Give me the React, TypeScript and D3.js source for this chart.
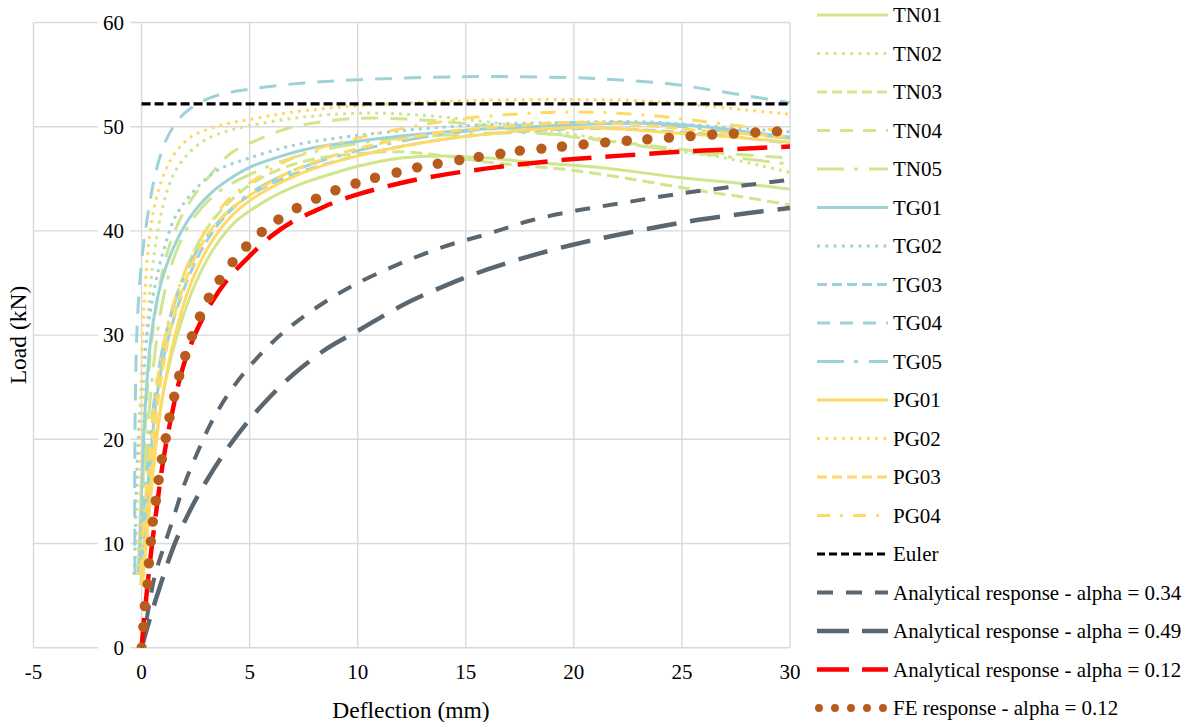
import React from 'react';
import * as d3 from 'd3';

type Pt = [number, number];

const W = 1189, H = 722;
const xTicks = [-5, 0, 5, 10, 15, 20, 25, 30];
const yTicks = [0, 10, 20, 30, 40, 50, 60];

const TN01: Pt[] = [[-0.05,6],[0.12,10],[0.35,15],[0.65,20],[1.05,25],[1.65,30],[2.5,35],[3.4,38.5],[4.3,40.8],[5,41.9],[6,43.2],[7.5,44.6],[9,45.6],[10,46.2],[12,47.0],[14,47.2],[16,47.0],[18,46.6],[20,46.3],[22,45.9],[25,45.1],[28,44.5],[30,44.0]];
const TN02: Pt[] = [[-0.2,7],[-0.1,12],[0,18],[0.1,25],[0.3,32],[0.6,38],[1.0,42.5],[1.5,45.5],[2.2,47.5],[3,48.8],[4,49.6],[5,50.1],[7,50.8],[9,51.2],[11,51.3],[13,51.1],[15,50.7],[17,50.2],[19,49.6],[21,48.9],[23,48.2],[25,47.6],[27,47.0],[30,45.6]];
const TN03: Pt[] = [[0,6],[0.2,12],[0.5,20],[0.9,27],[1.35,32],[2.0,36],[2.8,39.5],[3.7,42],[5,44.4],[6.5,46],[8,46.9],[10,47.4],[12,47.6],[14,47.2],[16,46.6],[18,46.2],[20,45.8],[22,45.2],[24,44.5],[26,43.8],[28,43.2],[30,42.5]];
const TN04: Pt[] = [[-0.1,7],[0,12],[0.15,20],[0.35,27],[0.7,33],[1.2,38],[2,42],[3,44.9],[4.1,47.4],[5,48.4],[6.7,49.8],[7.8,50.3],[10,50.8],[12.6,50.7],[15,50.3],[17,49.8],[20,49.0],[23,48.3],[26,47.6],[30,47.0]];
const TN05: Pt[] = [[-0.1,7],[0.05,13],[0.25,20],[0.55,27],[0.95,33],[1.6,38],[2.5,41.5],[3.6,43.8],[5,45.4],[6.5,46.7],[8,47.6],[10,48.4],[12,48.9],[15,49.3],[18,49.4],[20,49.1],[22,48.5],[24,47.9],[26,47.4],[28,46.9],[30,46.4]];
const TG01: Pt[] = [[-0.15,7],[-0.05,12],[0.05,18],[0.2,24],[0.45,30],[0.9,35],[1.5,38.5],[2.3,41.5],[3.3,43.8],[4.3,45.3],[5,46.1],[6.5,47.2],[8,48.0],[10,48.6],[12,49.1],[14,49.5],[16,49.8],[18,50.0],[20,50.2],[22,50.3],[24,50.3],[26,50.0],[28,49.5],[30,49.0]];
const TG02: Pt[] = [[-0.35,7],[-0.3,10],[-0.25,15],[-0.15,20],[0,25],[0.25,30],[0.55,34],[1.0,38],[1.6,41.5],[2.5,44],[3.5,45.8],[5,47.0],[7,48.2],[9,48.9],[11,49.4],[13,49.8],[15,50.1],[17,50.3],[20,50.4],[22,50.5],[24,50.4],[26,50.1],[28,49.8],[30,49.5]];
const TG03: Pt[] = [[0,7],[0.15,12],[0.4,18],[0.7,24],[1.15,29],[1.8,33.5],[2.6,37.5],[3.5,40.5],[4.4,42.5],[5,43.4],[6.5,45],[8,46.1],[10,47.2],[12,48.1],[14,48.8],[16,49.3],[18,49.6],[20,49.8],[22,49.8],[24,49.6],[26,49.3],[28,48.9],[30,48.4]];
const TG04: Pt[] = [[-0.3,7],[-0.32,15],[-0.28,25],[-0.18,32],[0,37],[0.25,41],[0.7,46],[1.2,49],[1.8,50.9],[2.5,52.1],[3.5,53],[5,53.6],[7.5,54.2],[10,54.5],[15,54.8],[20,54.7],[22,54.5],[24.5,54.1],[27,53.3],[30,52.3]];
const TG05: Pt[] = [[-0.1,7],[0.05,12],[0.3,18],[0.6,24],[1.0,29],[1.6,33.5],[2.4,37.5],[3.4,40.5],[4.4,42.6],[5,43.6],[6.5,45.3],[8,46.5],[10,47.7],[12,48.6],[14,49.3],[16,49.8],[18,50.2],[20,50.4],[22,50.4],[24,50.2],[26,49.8],[28,49.3],[30,48.9]];
const PG01: Pt[] = [[0.05,6],[0.22,10],[0.45,15],[0.7,20],[1.05,25],[1.55,30],[2.2,34.5],[3.1,38.5],[4.1,41.3],[5,42.9],[6.5,44.7],[8,46],[10,47.2],[12,48.1],[14,48.8],[16,49.3],[18,49.7],[20,49.9],[22,49.8],[24,49.5],[26,49.2],[28,48.9],[30,48.5]];
const PG02: Pt[] = [[-0.2,7],[-0.1,12],[-0.05,20],[0,27],[0.15,34],[0.4,40],[0.8,44],[1.4,47],[2.2,48.9],[3,49.7],[4,50.3],[5,50.7],[7,51.4],[10,52.0],[15,52.5],[20,52.6],[23,52.5],[25,52.2],[27,51.8],[30,51.2]];
const PG03: Pt[] = [[0,6],[0.17,10],[0.4,16],[0.65,22],[1.0,27],[1.4,31],[2.0,35],[2.8,38.8],[3.8,41.5],[5,43.4],[6.5,45.3],[8,46.6],[10,47.9],[12,48.8],[14,49.5],[16,49.9],[18,50.2],[20,50.4],[22,50.3],[24,50.0],[26,49.6],[28,49.3],[30,49.0]];
const PG04: Pt[] = [[-0.05,7],[0.1,12],[0.33,18],[0.62,24],[1.0,29],[1.55,33.5],[2.3,37.5],[3.2,40.8],[4.1,43.2],[5,44.6],[6.5,46.5],[8,47.8],[10,48.9],[12,49.8],[15,50.8],[18,51.3],[20,51.4],[22,51.3],[24,51.0],[26,50.5],[28,50.0],[30,49.5]];
const EULER: Pt[] = [[0,52.2],[30,52.2]];
const AN034: Pt[] = [[0,0],[0.3,3.5],[0.6,6.8],[1.0,9.5],[1.4,12],[2.0,15.8],[2.6,18.8],[3.2,21.5],[4.0,24.3],[5.0,27.0],[6.0,29.2],[7.0,31.0],[8.5,33.2],[10,35.0],[12,36.9],[14,38.5],[16,39.7],[18,41.0],[20,41.9],[22,42.6],[25,43.6],[28,44.4],[30,44.9]];
const AN049: Pt[] = [[0,0],[0.3,2.2],[0.9,6.2],[1.5,9.8],[2.2,13.0],[3.0,16.0],[4.0,19.2],[5.0,21.9],[6.0,24.2],[7.0,26.2],[8.5,28.6],[10,30.4],[12,32.8],[14,34.7],[16,36.3],[18,37.6],[20,38.7],[22,39.6],[25,40.8],[28,41.7],[30,42.2]];
const AN012: Pt[] = [[0,0],[0.1,2.4],[0.25,5.5],[0.42,8.8],[0.73,13.9],[1.02,18.2],[1.48,23.2],[1.9,26.8],[2.5,30.2],[3.2,33.0],[4.0,35.4],[5.0,37.6],[6.0,39.5],[7.0,40.9],[8.0,41.9],[9.0,42.8],[10,43.5],[12,44.6],[14,45.4],[16,46.0],[18,46.5],[20,46.9],[22,47.2],[25,47.6],[28,47.9],[30,48.1]];
const FE012: Pt[] = [[0,0],[0.08,2.0],[0.15,4.0],[0.28,6.1],[0.34,8.1],[0.43,10.2],[0.52,12.1],[0.66,14.1],[0.79,16.1],[0.94,18.1],[1.12,20.1],[1.29,22.1],[1.51,24.1],[1.74,26.1],[2.02,28.0],[2.33,29.9],[2.70,31.8],[3.11,33.6],[3.61,35.3],[4.21,37.0],[4.84,38.5],[5.56,39.9],[6.33,41.1],[7.18,42.2],[8.07,43.1],[8.97,43.9],[9.9,44.55],[10.8,45.1],[11.8,45.6],[12.75,46.1],[13.7,46.45],[14.7,46.8],[15.6,47.1],[16.6,47.4],[17.5,47.7],[18.5,47.9],[19.45,48.1],[20.45,48.3],[21.45,48.5],[22.45,48.65],[23.4,48.8],[24.4,48.95],[25.4,49.1],[26.4,49.25],[27.4,49.35],[28.4,49.45],[29.4,49.55],[30.35,49.6]];

const TN_C = '#cfe68c';
const TG_C = '#9dd3d8';
const PG_C = '#ffd966';
const GRAY_C = '#5b6770';

type S = { name: string; data: Pt[]; color: string; width: number; dash: string; ldash: string; dots?: boolean };

const SERIES: S[] = [
  { name: 'TN01', data: TN01, color: TN_C, width: 3, dash: '', ldash: '' },
  { name: 'TN02', data: TN02, color: TN_C, width: 3, dash: '3 5', ldash: '3 5.3' },
  { name: 'TN03', data: TN03, color: TN_C, width: 3, dash: '12 6', ldash: '10 5' },
  { name: 'TN04', data: TN04, color: TN_C, width: 3, dash: '17 12', ldash: '13 10' },
  { name: 'TN05', data: TN05, color: TN_C, width: 3, dash: '27 10 4 11', ldash: '27 10 4 11' },
  { name: 'TG01', data: TG01, color: TG_C, width: 3, dash: '', ldash: '' },
  { name: 'TG02', data: TG02, color: TG_C, width: 3, dash: '3 5', ldash: '3 5.3' },
  { name: 'TG03', data: TG03, color: TG_C, width: 3, dash: '12 6', ldash: '10 5' },
  { name: 'TG04', data: TG04, color: TG_C, width: 3, dash: '17 12', ldash: '13 10' },
  { name: 'TG05', data: TG05, color: TG_C, width: 3, dash: '27 10 4 11', ldash: '27 10 4 11' },
  { name: 'PG01', data: PG01, color: PG_C, width: 3, dash: '', ldash: '' },
  { name: 'PG02', data: PG02, color: PG_C, width: 3, dash: '3 5', ldash: '3 5.3' },
  { name: 'PG03', data: PG03, color: PG_C, width: 3, dash: '12 6', ldash: '10 5' },
  { name: 'PG04', data: PG04, color: PG_C, width: 3, dash: '15 10 3 10', ldash: '13 10 3 10' },
  { name: 'Euler', data: EULER, color: '#000000', width: 3.2, dash: '9 4', ldash: '8 4' },
  { name: 'Analytical response - alpha = 0.34', data: AN034, color: GRAY_C, width: 4, dash: '15 13', ldash: '16 13' },
  { name: 'Analytical response - alpha = 0.49', data: AN049, color: GRAY_C, width: 4.5, dash: '30 14', ldash: '32 13' },
  { name: 'Analytical response - alpha = 0.12', data: AN012, color: '#ff0000', width: 4.5, dash: '30 14', ldash: '32 13' },
  { name: 'FE response - alpha = 0.12', data: FE012, color: '#b85c1e', width: 8, dash: '', ldash: '0 16', dots: true },
];

const FONT = "'Liberation Serif', 'Times New Roman', Tinos, 'DejaVu Serif', serif";
const TXT: React.CSSProperties = { fontFamily: FONT };

export default function App() {
  const x = d3.scaleLinear().domain([-5, 30]).range([33.5, 790]);
  const y = d3.scaleLinear().domain([0, 60]).range([647.7, 22.5]);
  const line = d3.line<Pt>().x(d => x(d[0])).y(d => y(d[1])).curve(d3.curveCatmullRom.alpha(0.5));
  const [x0, x1] = x.range();
  const [yb, yt] = y.range();
  const legX0 = 817, legX1 = 888, legTX = 893, legY0 = 15, legDY = 38.5;

  return (
    <div style={{ position: 'fixed', left: 0, top: 0, width: W, height: H, background: '#fff' }}>
      <svg width={W} height={H} style={{ display: 'block', fontFamily: FONT }}>
        <defs>
          <clipPath id="plotclip">
            <rect x={x0} y={yt} width={x1 - x0} height={yb - yt} />
          </clipPath>
        </defs>
        <rect x={0} y={0} width={W} height={H} fill="#fff" />
        {xTicks.map(t => (
          <line key={'gx' + t} x1={x(t)} x2={x(t)} y1={yt} y2={yb} stroke="#d9d9d9" strokeWidth={1.4} />
        ))}
        {yTicks.map(t => (
          <line key={'gy' + t} x1={x0} x2={x1} y1={y(t)} y2={y(t)} stroke="#d9d9d9" strokeWidth={1.4} />
        ))}
        {yTicks.map(t => (
          <g key={'yl' + t}>
            <rect x={98} y={y(t) - 9} width={32} height={18} fill="#fff" />
            <text x={124} y={y(t)} dy="0.35em" textAnchor="end" fontSize={21} fill="#000" style={TXT}>{t}</text>
          </g>
        ))}
        {xTicks.map(t => (
          <text key={'xl' + t} x={x(t)} y={672} dy="0.35em" textAnchor="middle" fontSize={21} fill="#000" style={TXT}>{t}</text>
        ))}
        <text x={411} y={710} dy="0.35em" textAnchor="middle" fontSize={23.5} fill="#000" style={TXT}>Deflection (mm)</text>
        <text transform={`translate(18,335) rotate(-90)`} dy="0.35em" textAnchor="middle" fontSize={23.5} fill="#000" style={TXT}>Load (kN)</text>
        <g clipPath="url(#plotclip)">
          {SERIES.map(s => s.dots ? (
            <g key={s.name}>
              {s.data.map((d, i) => (
                <circle key={i} cx={x(d[0])} cy={y(d[1])} r={5.2} fill={s.color} />
              ))}
            </g>
          ) : (
            <path key={s.name} d={line(s.data) || ''} fill="none" stroke={s.color} strokeWidth={s.width}
              strokeDasharray={s.dash || undefined} strokeLinecap="butt" strokeLinejoin="round" />
          ))}
        </g>
        {SERIES.map((s, i) => {
          const ly = legY0 + i * legDY;
          return (
            <g key={'lg' + s.name}>
              {s.dots ? (
                <line x1={legX0 + 2} x2={legX1} y1={ly} y2={ly} stroke={s.color} strokeWidth={8}
                  strokeDasharray={s.ldash} strokeLinecap="round" />
              ) : (
                <line x1={legX0} x2={legX1} y1={ly} y2={ly} stroke={s.color} strokeWidth={s.width}
                  strokeDasharray={s.ldash || undefined} strokeLinecap="butt" />
              )}
              <text x={legTX} y={ly} dy="0.35em" fontSize={21} fill="#000" style={TXT}>{s.name}</text>
            </g>
          );
        })}
      </svg>
    </div>
  );
}
